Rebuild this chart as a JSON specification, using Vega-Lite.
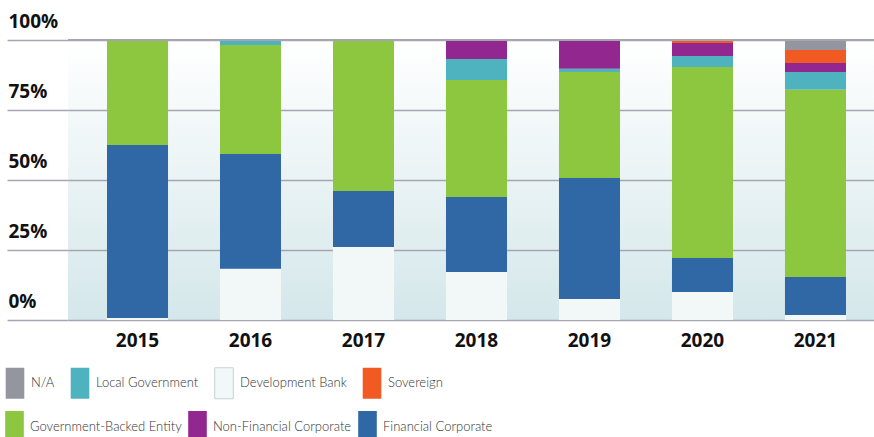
{
  "$schema": "https://vega.github.io/schema/vega-lite/v6.json",
  "width": 806,
  "height": 280,
  "autosize": "none",
  "padding": {"left": 68, "top": 40, "right": 0, "bottom": 117},
  "background": "white",
  "config": {
    "view": {
      "stroke": null,
      "fill": {"gradient": "linear", "x1": 0, "y1": 0, "x2": 0, "y2": 1, "stops": [{"offset": 0, "color": "#ffffff"}, {"offset": 1, "color": "#d4e7ea"}]}
    },
    "legend": {
      "title": null, "orient": "none", "direction": "horizontal",
      "symbolType": "M-0.6,-1 h1.2 v2 h-1.2 Z", "symbolSize": 961, "symbolOpacity": 1, "symbolStrokeWidth": 0,
      "labelFont": "Lato", "labelFontWeight": 300, "labelFontSize": 13, "labelColor": "#333333", "labelOffset": 0, "labelLimit": 300
    }
  },
  "data": {
    "values": [
      {"year": "2015", "sector": "Development Bank", "pct": 0.7},
      {"year": "2015", "sector": "Financial Corporate", "pct": 61.8},
      {"year": "2015", "sector": "Government-Backed Entity", "pct": 37.5},
      {"year": "2016", "sector": "Development Bank", "pct": 18.3},
      {"year": "2016", "sector": "Financial Corporate", "pct": 41.0},
      {"year": "2016", "sector": "Government-Backed Entity", "pct": 38.9},
      {"year": "2016", "sector": "Local Government", "pct": 1.8},
      {"year": "2017", "sector": "Development Bank", "pct": 26.1},
      {"year": "2017", "sector": "Financial Corporate", "pct": 20.0},
      {"year": "2017", "sector": "Government-Backed Entity", "pct": 53.9},
      {"year": "2018", "sector": "Development Bank", "pct": 17.1},
      {"year": "2018", "sector": "Financial Corporate", "pct": 26.8},
      {"year": "2018", "sector": "Government-Backed Entity", "pct": 41.8},
      {"year": "2018", "sector": "Local Government", "pct": 7.5},
      {"year": "2018", "sector": "Non-Financial Corporate", "pct": 6.4},
      {"year": "2018", "sector": "N/A", "pct": 0.4},
      {"year": "2019", "sector": "Development Bank", "pct": 7.5},
      {"year": "2019", "sector": "Financial Corporate", "pct": 43.2},
      {"year": "2019", "sector": "Government-Backed Entity", "pct": 37.9},
      {"year": "2019", "sector": "Local Government", "pct": 1.1},
      {"year": "2019", "sector": "Non-Financial Corporate", "pct": 10.0},
      {"year": "2019", "sector": "N/A", "pct": 0.3},
      {"year": "2020", "sector": "Development Bank", "pct": 10.0},
      {"year": "2020", "sector": "Financial Corporate", "pct": 12.1},
      {"year": "2020", "sector": "Government-Backed Entity", "pct": 68.3},
      {"year": "2020", "sector": "Local Government", "pct": 3.9},
      {"year": "2020", "sector": "Non-Financial Corporate", "pct": 4.6},
      {"year": "2020", "sector": "Sovereign", "pct": 1.1},
      {"year": "2021", "sector": "Development Bank", "pct": 1.8},
      {"year": "2021", "sector": "Financial Corporate", "pct": 13.6},
      {"year": "2021", "sector": "Government-Backed Entity", "pct": 66.8},
      {"year": "2021", "sector": "Local Government", "pct": 6.4},
      {"year": "2021", "sector": "Non-Financial Corporate", "pct": 3.2},
      {"year": "2021", "sector": "Sovereign", "pct": 4.6},
      {"year": "2021", "sector": "N/A", "pct": 3.6}
    ]
  },
  "transform": [
    {"calculate": "indexof(['Development Bank','Financial Corporate','Government-Backed Entity','Local Government','Non-Financial Corporate','Sovereign','N/A'], datum.sector)", "as": "stackRank"},
    {"stack": "pct", "groupby": ["year"], "sort": [{"field": "stackRank", "order": "ascending"}], "as": ["y0", "y1"]}
  ],
  "resolve": {"scale": {"color": "independent"}, "legend": {"color": "independent"}},
  "layer": [
    {
      "transform": [{"filter": "indexof(['N/A','Local Government','Development Bank','Sovereign'], datum.sector) >= 0"}],
      "mark": {"type": "bar", "strokeWidth": 0},
      "encoding": {
        "x": {
          "field": "year", "type": "nominal",
          "scale": {"paddingInner": 0.46, "paddingOuter": 0.2965, "align": 0.582},
          "axis": {"title": null, "domain": false, "ticks": false, "labelAngle": 0, "labelPadding": 11, "labelFont": "Open Sans", "labelFontWeight": "bold", "labelFontSize": 19, "labelColor": "#111111"}
        },
        "y": {
          "field": "y1", "type": "quantitative",
          "scale": {"domain": [0, 100], "nice": false},
          "axis": {"title": null, "values": [0, 25, 50, 75, 100], "labelExpr": "datum.value + '%'", "domain": false, "ticks": true, "tickSize": 61, "tickColor": "#a6a6b3", "tickWidth": 1.5, "grid": true, "gridColor": "#a6a6b3", "gridWidth": 1.5, "labelAlign": "left", "labelPadding": -1, "labelOffset": -19, "labelFont": "Open Sans", "labelFontWeight": "bold", "labelFontSize": 19, "labelColor": "#111111"}
        },
        "y2": {"field": "y0"},
        "color": {
          "field": "sector", "type": "nominal",
          "scale": {
            "domain": ["N/A", "Local Government", "Development Bank", "Sovereign"],
            "range": ["#95959f", "#4fb3bf", "#f2f8f8", "#f15a22"]
          },
          "legend": {
            "legendX": -69, "legendY": 327, "columnPadding": 9,
            "encode": {"symbols": {"update": {"stroke": {"signal": "datum.value === 'Development Bank' ? '#c8d0d0' : 'transparent'"}, "strokeWidth": {"value": 1}}}}
          }
        }
      }
    },
    {
      "transform": [{"filter": "indexof(['Government-Backed Entity','Non-Financial Corporate','Financial Corporate'], datum.sector) >= 0"}],
      "mark": {"type": "bar", "strokeWidth": 0},
      "encoding": {
        "x": {"field": "year", "type": "nominal"},
        "y": {"field": "y1", "type": "quantitative"},
        "y2": {"field": "y0"},
        "color": {
          "field": "sector", "type": "nominal",
          "scale": {
            "domain": ["Government-Backed Entity", "Non-Financial Corporate", "Financial Corporate"],
            "range": ["#8dc63f", "#92278f", "#3067a5"]
          },
          "legend": {"legendX": -69, "legendY": 371, "columnPadding": 0}
        }
      }
    },
    {
      "mark": {"type": "rule", "color": "#a6a6b3", "strokeWidth": 1.5, "opacity": 0.7},
      "encoding": {"y": {"datum": 100}}
    }
  ]
}
